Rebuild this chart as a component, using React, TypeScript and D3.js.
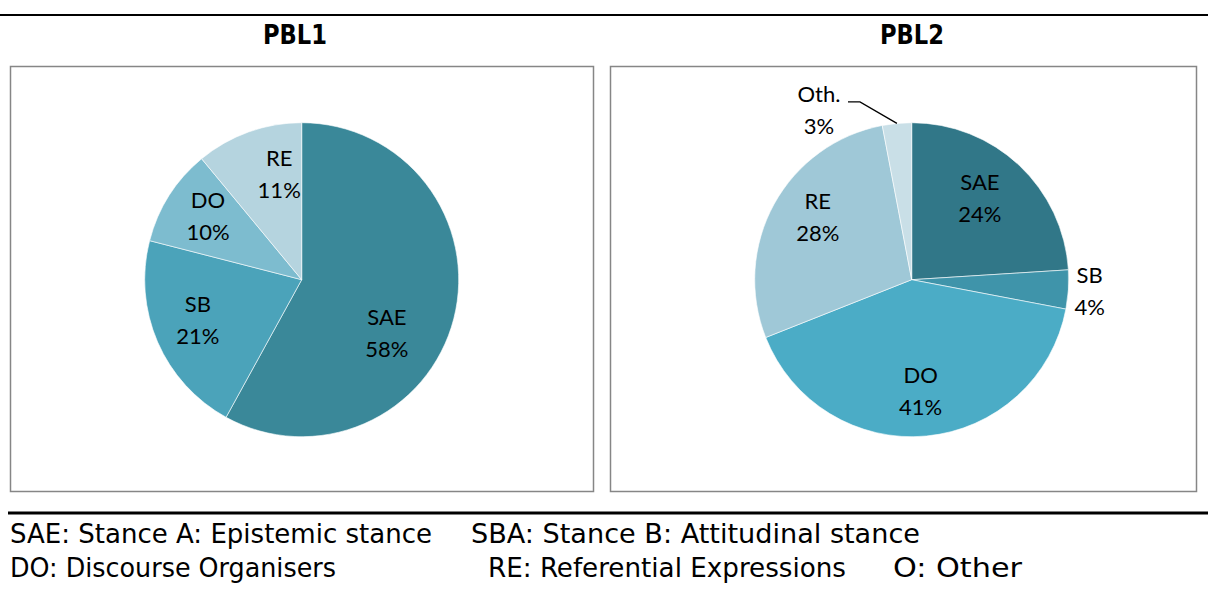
import React from "react";
import * as d3 from "d3";

// PBL1 composition (percent)
const categories1 = ["SAE", "SB", "DO", "RE"];
const values1 = [58, 21, 10, 11];
const colors1 = ["#3a8899", "#4ba3ba", "#7dbccf", "#b5d4df"];

// PBL2 composition (percent)
const categories2 = ["SAE", "SB", "DO", "RE", "Oth."];
const values2 = [24, 4, 41, 28, 3];
const colors2 = ["#317788", "#3f94aa", "#4bacc6", "#9fc8d7", "#c9dfe7"];

// Label placement: radius as a fraction of the pie radius, angular nudge in degrees
const labelRadius1 = [0.64, 0.71, 0.72, 0.69];
const labelShift1 = [17.6, 2, 1.6, 7.8];
const labelRadius2 = [0.68, 1.136, 0.71, 0.72, 1.23];
const labelShift2 = [-3.5, 0, 0.8, 5, -23.3];
const leaderSlices2 = [false, false, false, false, true];

// Key text under the charts
const keyLine1 = ["SAE: Stance A: Epistemic stance", "SBA: Stance B: Attitudinal stance"];
const keyLine2 = ["DO: Discourse Organisers", "RE: Referential Expressions", "O: Other"];

const W = 1208;
const H = 592;
const LABEL_FONT = "Lato, 'Open Sans', sans-serif";
const KEY_FONT = "'DejaVu Sans Condensed', 'DejaVu Sans', sans-serif";

type PieProps = {
  cx: number;
  cy: number;
  r: number;
  cats: string[];
  vals: number[];
  colors: string[];
  labelR: number[];
  labelShift: number[];
  leaders?: boolean[];
};

function PieChart({ cx, cy, r, cats, vals, colors, labelR, labelShift, leaders }: PieProps) {
  const pie = d3
    .pie<number>()
    .sort(null)
    .value((d) => d)
    .startAngle(0)
    .endAngle(2 * Math.PI);
  const arcs = pie(vals);
  const arc = d3.arc<d3.PieArcDatum<number>>().innerRadius(0).outerRadius(r);
  const polar = (a: number, rr: number) => [rr * Math.sin(a), -rr * Math.cos(a)];
  const total = d3.sum(vals);

  return (
    <g transform={`translate(${cx},${cy})`}>
      {arcs.map((a, i) => (
        <path key={cats[i]} d={arc(a) || ""} fill={colors[i]} stroke="#ffffff" strokeWidth={0.6} />
      ))}
      {arcs.map((a, i) => {
        const mid = (a.startAngle + a.endAngle) / 2;
        const la = mid + (labelShift[i] * Math.PI) / 180;
        const [lx, ly] = polar(la, labelR[i] * r);
        const pct = `${Math.round((vals[i] / total) * 100)}%`;
        const hasLeader = leaders && leaders[i];
        const [ex, ey] = polar(mid, r);
        return (
          <g key={`lab-${cats[i]}`}>
            {hasLeader && (
              <polyline
                points={`${lx + 29},${ly - 8.5} ${lx + 41},${ly - 8.5} ${ex},${ey}`}
                fill="none"
                stroke="#000"
                strokeWidth={1.3}
              />
            )}
            <text
              x={lx}
              textAnchor="middle"
              fontFamily={LABEL_FONT}
              fontSize={22}
              fill="#000"
            >
              <tspan x={lx} y={ly - 16 + 8}>
                {cats[i]}
              </tspan>
              <tspan x={lx} y={ly + 16 + 8}>
                {pct}
              </tspan>
            </text>
          </g>
        );
      })}
    </g>
  );
}

export default function App() {
  return (
    <svg
      width={W}
      height={H}
      viewBox={`0 0 ${W} ${H}`}
      style={{ position: "absolute", left: 0, top: 0, background: "#fff" }}
    >
      <rect x={0} y={0} width={W} height={H} fill="#fff" />
      {/* top rule */}
      <line x1={0} x2={W} y1={15} y2={15} stroke="#000" strokeWidth={2} />

      {/* titles */}
      <text x={295} y={44} textAnchor="middle" fontFamily={KEY_FONT} fontWeight="bold" fontSize={27} textLength={64} lengthAdjust="spacingAndGlyphs">
        PBL1
      </text>
      <text x={912} y={44} textAnchor="middle" fontFamily={KEY_FONT} fontWeight="bold" fontSize={27} textLength={64} lengthAdjust="spacingAndGlyphs">
        PBL2
      </text>

      {/* chart frames */}
      <rect x={10.5} y={66.5} width={583} height={425} fill="#fff" stroke="#868686" strokeWidth={1.5} />
      <rect x={610.5} y={66.5} width={586} height={425} fill="#fff" stroke="#868686" strokeWidth={1.5} />

      <PieChart
        cx={301.7}
        cy={279.7}
        r={157}
        cats={categories1}
        vals={values1}
        colors={colors1}
        labelR={labelRadius1}
        labelShift={labelShift1}
      />
      <PieChart
        cx={911.7}
        cy={279.7}
        r={157}
        cats={categories2}
        vals={values2}
        colors={colors2}
        labelR={labelRadius2}
        labelShift={labelShift2}
        leaders={leaderSlices2}
      />

      {/* bottom rule and key */}
      <line x1={8} x2={W} y1={513} y2={513} stroke="#000" strokeWidth={3} />
      <g fontFamily={KEY_FONT} fontSize={27} fill="#000">
        <text x={10} y={543} textLength={422} lengthAdjust="spacingAndGlyphs">{keyLine1[0]}</text>
        <text x={471} y={543} textLength={449} lengthAdjust="spacingAndGlyphs">{keyLine1[1]}</text>
        <text x={10} y={577} textLength={326} lengthAdjust="spacingAndGlyphs">{keyLine2[0]}</text>
        <text x={488} y={577} textLength={358} lengthAdjust="spacingAndGlyphs">{keyLine2[1]}</text>
        <text x={893} y={577} textLength={129} lengthAdjust="spacingAndGlyphs">{keyLine2[2]}</text>
      </g>
    </svg>
  );
}
